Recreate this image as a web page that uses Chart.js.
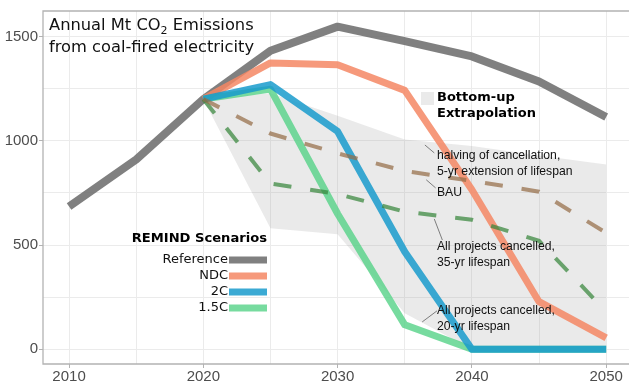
<!DOCTYPE html>
<html lang="en">
<head>
<meta charset="UTF-8" />
<title>Annual Mt CO2 Emissions from coal-fired electricity</title>
<script src="https://cdn.jsdelivr.net/npm/chart.js"></script>
<style>
  html, body { margin: 0; padding: 0; background: #fff; }
  #wrap { width: 629px; height: 383px; }
</style>
</head>
<body>
<div id="wrap"><canvas id="chart" width="629" height="383"></canvas></div>
<script>
  // values (Mt CO2 per year)
  const years = [2010, 2015, 2020, 2025, 2030, 2035, 2040, 2045, 2050];
  const reference = [685, 910, 1200, 1432, 1548, 1478, 1405, 1285, 1114];
  const ndc = [null, null, 1200, 1374, 1365, 1242, 765, 228, 54];
  const twoC = [null, null, 1200, 1270, 1045, 468, 0, 0, 0];
  const onePointFiveC = [null, null, 1200, 1248, 650, 117, 0, 0, 0];
  const bau = [null, null, 1200, 1035, 940, 855, 808, 756, 558];
  const cancelled35 = [null, null, 1200, 795, 745, 660, 621, 520, 180];
  const bandUpper = [null, null, 1200, 1228, 1120, 1006, 975, 930, 886];
  const bandLower = [null, null, 1200, 580, 552, 172, 0, 0, 0];

  const xTicks = [2010, 2015, 2020, 2025, 2030, 2035, 2040, 2045, 2050];
  const yTicks = [0, 250, 500, 750, 1000, 1250, 1500];

  const scenarioNames = ['Reference', 'NDC', '2C', '1.5C'];
  const scenarioColors = ['rgba(110,110,110,0.88)', 'rgba(245,135,100,0.85)', 'rgba(25,155,205,0.85)', 'rgba(85,210,135,0.8)'];

  const BAND = 'rgba(150,150,150,0.2)';
  const FONT = "'DejaVu Sans', Verdana, sans-serif";
  const ARIAL = "'Liberation Sans', Arial, sans-serif";

  function pts(arr) {
    return years.map((x, i) => ({ x: x, y: arr[i] })).filter(p => p.y !== null);
  }

  function solid(label, data, color, width, order) {
    return { label, data: pts(data), borderColor: color, borderWidth: width, pointRadius: 0,
             fill: false, tension: 0, borderJoinStyle: 'round', order };
  }

  function dashed(label, data, color, order) {
    return { label, data: pts(data), borderColor: color, borderWidth: 4, borderDash: [18, 19],
             pointRadius: 0, fill: false, tension: 0, order };
  }

  // leader-line notes, positioned in data units
  const notes = [
    { lines: ['halving of cancellation,', '5-yr extension of lifespan'], at: [2037.4, 927], from: [2036.5, 980], to: [2037.2, 942] },
    { lines: ['BAU'], at: [2037.4, 750], from: [2036.6, 813], to: [2037.3, 774] },
    { lines: ['All projects cancelled,', '35-yr lifespan'], at: [2037.4, 491], from: [2037.2, 625], to: [2037.8, 524] },
    { lines: ['All projects cancelled,', '20-yr lifespan'], at: [2037.4, 184], from: [2036.3, 131], to: [2037.4, 184] }
  ];

  const decor = {
    id: 'decor',
    beforeDatasetsDraw(chart) {
      const { ctx, chartArea: a } = chart;
      ctx.save();
      ctx.strokeStyle = '#b3b3b3';
      ctx.lineWidth = 1.3;
      ctx.beginPath();
      ctx.moveTo(a.right + 2, a.top);
      ctx.lineTo(a.left, a.top);
      ctx.lineTo(a.left, a.bottom);
      ctx.lineTo(a.right + 2, a.bottom);
      ctx.stroke();
      ctx.restore();
    },
    afterDatasetsDraw(chart) {
      const { ctx } = chart;
      const xs = chart.scales.x, ys = chart.scales.y;
      ctx.save();

      // title
      ctx.fillStyle = '#111';
      ctx.textBaseline = 'alphabetic';
      ctx.textAlign = 'left';
      ctx.font = '16.3px ' + FONT;
      let tx = 49;
      ctx.fillText('Annual Mt CO', tx, 30);
      tx += ctx.measureText('Annual Mt CO').width;
      ctx.font = '11px ' + FONT;
      ctx.fillText('2', tx, 34);
      tx += ctx.measureText('2').width;
      ctx.font = '16.3px ' + FONT;
      ctx.fillText(' Emissions', tx, 30);
      ctx.fillText('from coal-fired electricity', 49, 52);

      // bottom-up band key
      ctx.fillStyle = BAND;
      ctx.fillRect(421, 92, 13, 13);
      ctx.fillStyle = '#000';
      ctx.font = 'bold 13px ' + FONT;
      ctx.textBaseline = 'middle';
      ctx.fillText('Bottom-up', 437, 98);
      ctx.fillText('Extrapolation', 437, 114);

      // REMIND scenarios key
      ctx.textAlign = 'right';
      ctx.font = 'bold 13.1px ' + FONT;
      ctx.fillText('REMIND Scenarios', 267, 239);
      ctx.font = '13px ' + FONT;
      scenarioNames.forEach((n, i) => {
        const cy = 260 + i * 16;
        ctx.fillStyle = '#111';
        ctx.fillText(n, 228, cy);
        ctx.fillStyle = scenarioColors[i];
        ctx.fillRect(229, cy - 3.5, 38, 7);
      });

      // notes with leader lines
      ctx.textAlign = 'left';
      ctx.font = '12.2px ' + ARIAL;
      notes.forEach(n => {
        ctx.strokeStyle = '#333';
        ctx.lineWidth = 0.6;
        ctx.beginPath();
        ctx.moveTo(xs.getPixelForValue(n.from[0]), ys.getPixelForValue(n.from[1]));
        ctx.lineTo(xs.getPixelForValue(n.to[0]), ys.getPixelForValue(n.to[1]));
        ctx.stroke();
        const px = xs.getPixelForValue(n.at[0]);
        const py = ys.getPixelForValue(n.at[1]);
        ctx.fillStyle = '#111';
        n.lines.forEach((l, j) => ctx.fillText(l, px, py + j * 16));
      });
      ctx.restore();
    }
  };

  new Chart(document.getElementById('chart'), {
    type: 'line',
    data: {
      datasets: [
        dashed('BAU', bau, 'rgba(150,110,72,0.72)', 1),
        dashed('All projects cancelled, 35-yr', cancelled35, 'rgba(55,135,60,0.72)', 2),
        solid('Reference', reference, scenarioColors[0], 8, 6),
        solid('NDC', ndc, scenarioColors[1], 7, 5),
        solid('2C', twoC, scenarioColors[2], 7, 3),
        solid('1.5C', onePointFiveC, scenarioColors[3], 7, 4),
        { label: 'upper', data: pts(bandUpper), borderWidth: 0, borderColor: 'transparent', pointRadius: 0,
          backgroundColor: BAND, fill: '+1', tension: 0, order: 10 },
        { label: 'lower', data: pts(bandLower), borderWidth: 0, borderColor: 'transparent', pointRadius: 0,
          fill: false, tension: 0, order: 11 }
      ]
    },
    options: {
      responsive: false,
      animation: false,
      layout: { padding: { top: 11, right: 0, left: 0, bottom: 0 } },
      plugins: {
        legend: { display: false },
        tooltip: { enabled: false },
        filler: { drawTime: 'beforeDatasetsDraw' }
      },
      scales: {
        x: {
          type: 'linear',
          min: 2008.06,
          max: 2051.7,
          afterBuildTicks: s => { s.ticks = xTicks.map(v => ({ value: v })); },
          afterFit: s => { s.height = 19; },
          border: { display: false },
          grid: {
            color: '#ebebeb',
            lineWidth: 1,
            tickLength: 4,
            tickColor: c => (c.tick && c.tick.value % 10 === 0) ? '#b3b3b3' : 'rgba(0,0,0,0)'
          },
          ticks: {
            padding: 0,
            maxRotation: 0,
            autoSkip: false,
            color: '#4d4d4d',
            font: { family: ARIAL, size: 15 },
            callback: v => (v % 10 === 0 ? String(v) : '')
          }
        },
        y: {
          min: -71,
          max: 1623,
          afterBuildTicks: s => { s.ticks = yTicks.map(v => ({ value: v })); },
          afterFit: s => { s.width = 43; },
          border: { display: false },
          grid: {
            color: '#ebebeb',
            lineWidth: 1,
            tickLength: 4,
            tickColor: c => (c.tick && c.tick.value % 500 === 0) ? '#b3b3b3' : 'rgba(0,0,0,0)'
          },
          ticks: {
            padding: 1,
            autoSkip: false,
            color: '#4d4d4d',
            font: { family: ARIAL, size: 15 },
            callback: v => (v % 500 === 0 ? String(v) : '')
          }
        }
      }
    },
    plugins: [decor]
  });
</script>
</body>
</html>
